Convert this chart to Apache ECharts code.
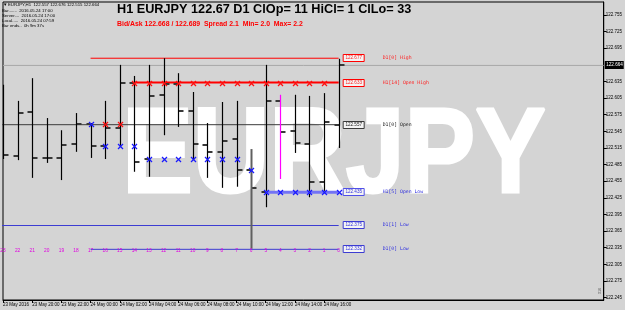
<!DOCTYPE html>
<html><head><meta charset="utf-8">
<script src="https://cdn.jsdelivr.net/npm/echarts@6/dist/echarts.min.js"></script>
<style>html,body{margin:0;padding:0;background:#d4d4d4;}#c{width:625px;height:310px;}</style>
</head><body><div id="c"></div>
<script>
// ---- data ----
const barNumbers = [23,22,21,20,19,18,17,16,15,14,13,12,11,10,9,8,7,6,5,4,3,2,1,0];
const opens  = [122.560,122.500,122.580,122.497,122.497,122.522,122.558,122.519,122.551,122.633,122.495,122.611,122.630,122.582,122.520,122.508,122.531,122.475,122.435,122.600,122.546,122.522,122.454,122.557];
const highs  = [122.629,122.600,122.641,122.569,122.547,122.578,122.560,122.600,122.665,122.645,122.665,122.677,122.650,122.616,122.560,122.598,122.600,122.513,122.665,122.611,122.611,122.609,122.614,122.676];
const lows   = [122.495,122.493,122.461,122.488,122.457,122.508,122.497,122.495,122.519,122.472,122.463,122.538,122.553,122.493,122.461,122.443,122.445,122.333,122.408,122.459,122.506,122.426,122.437,122.515];
const closes = [122.502,122.578,122.497,122.496,122.520,122.558,122.519,122.551,122.632,122.490,122.609,122.630,122.582,122.522,122.508,122.528,122.475,122.443,122.600,122.544,122.524,122.454,122.562,122.664];

const timeLabels    = ['23 May 2016','23 May 20:00','23 May 22:00','24 May 00:00','24 May 02:00','24 May 04:00','24 May 06:00','24 May 08:00','24 May 10:00','24 May 12:00','24 May 14:00','24 May 16:00'];
const timeLabelBars = [23,21,19,17,15,13,11,9,7,5,3,1];

const priceTicks = [122.245,122.275,122.305,122.335,122.365,122.395,122.425,122.455,122.485,122.515,122.545,122.575,122.605,122.635,122.695,122.725,122.755];
const bidPrice = 122.664;

const highOpenBars   = [16,15,14,13,12,11,10,9,8,7,6,5,4,3,2,1];
const highOpenValues = [122.558,122.558,122.633,122.633,122.633,122.633,122.633,122.633,122.633,122.633,122.633,122.633,122.633,122.633,122.633,122.633];
const lowOpenBars    = [17,16,15,14,13,12,11,10,9,8,7,6,5,4,3,2,1,0];
const lowOpenValues  = [122.558,122.519,122.519,122.519,122.495,122.495,122.495,122.495,122.495,122.495,122.495,122.475,122.435,122.435,122.435,122.435,122.435,122.435];

const levelNames     = ['D1[0] High','H1[14] Open High','D1[0] Open','H1[5] Open Low','D1[1] Low','D1[0] Low'];
const levelPrices    = [122.677,122.633,122.557,122.435,122.375,122.332];
const levelStartBars = [17,14,24,5,24,17];

const titleText = 'H1 EURJPY 122.67 D1 ClOp= 11 HiCl= 1 ClLo= 33';
const subText = 'Bid/Ask 122.668 / 122.689  Spread 2.1  Min= 2.0  Max= 2.2';
const infoLines = ['EURJPY,H1  122.557 122.676 122.515 122.664','Bar.......  2016.05.24 17:00','Server....  2016.05.24 17:00','Local.....  2016.05.24 07:59','Bar ends..  0h 9m 37s'];
const watermark = 'EURJPY';

// ---- styles ----
const levelStyles = [
  {color:'#ff0000', width:1, text:'#ff2020'},
  {color:'#ff0000', width:2, text:'#ff2020'},
  {color:'#3a3a3a', width:1, text:'#202020'},
  {color:'#7373f5', width:3, text:'#3030e0'},
  {color:'#3c3cd2', width:1, text:'#3030e0'},
  {color:'#3c3cd2', width:1, text:'#3030e0'}
];
const X_MAX = 41.16, Y_MIN = 122.2405, Y_MAX = 122.7785;
const idx = n => 23 - n;
const SMALL = '"Liberation Sans", Arial, sans-serif';
const MONO = '"DejaVu Sans Mono", "Liberation Mono", monospace';

const chart = echarts.init(document.getElementById('c'), null, {renderer:'canvas'});

const ohlcData = barNumbers.map((n,k)=>[idx(n), opens[k], highs[k], lows[k], closes[k], n]);
const tickPos = timeLabelBars.map(idx);

function renderBar(params, api){
  const i = api.value(0), n = api.value(5);
  const o = api.coord([i, api.value(1)]), h = api.coord([i, api.value(2)]);
  const l = api.coord([i, api.value(3)]), c = api.coord([i, api.value(4)]);
  const x = Math.round(h[0]) + 0.5;
  const vc = n === 4 ? '#ff00ff' : (n === 6 ? '#606060' : '#000000');
  const vw = n === 6 ? 2 : 1.2;
  const tc = '#383838';
  return {type:'group', children:[
    {type:'line', shape:{x1:x-5, y1:Math.round(o[1]), x2:x, y2:Math.round(o[1])}, style:{stroke:tc, lineWidth:2}},
    {type:'line', shape:{x1:x, y1:Math.round(c[1]), x2:x+5, y2:Math.round(c[1])}, style:{stroke:tc, lineWidth:2}},
    {type:'line', shape:{x1:x, y1:h[1], x2:x, y2:l[1]}, style:{stroke:vc, lineWidth:vw}}
  ]};
}

function crossRenderer(color){
  return function(params, api){
    const p = api.coord([api.value(0), api.value(1)]);
    const x = Math.round(p[0]) + 0.5, y = Math.round(p[1]) + 0.5, s = 2.5;
    return {type:'group', children:[
      {type:'line', shape:{x1:x-s,y1:y-s,x2:x+s,y2:y+s}, style:{stroke:color, lineWidth:1.3}},
      {type:'line', shape:{x1:x-s,y1:y+s,x2:x+s,y2:y-s}, style:{stroke:color, lineWidth:1.3}}
    ]};
  };
}

function renderLevelLabel(params, api){
  const k = params.dataIndex;
  const p = api.coord([api.value(0), api.value(1)]);
  const st = levelStyles[k];
  const y = Math.round(p[1]);
  return {type:'group', children:[
    {type:'rect', shape:{x:p[0]+4.5, y:y-3.5, width:21, height:7}, style:{fill:'#f4f4f4', stroke:st.color === '#7373f5' ? '#5050e8' : st.color, lineWidth:1}},
    {type:'text', x:p[0]+15, y:y, style:{text:api.value(1).toFixed(3), fill:st.text, font:'4.6px '+SMALL, align:'center', verticalAlign:'middle'}},
    {type:'text', x:p[0]+44, y:y, style:{text:levelNames[k], fill:st.text, font:'4.8px '+MONO, align:'left', verticalAlign:'middle'}}
  ]};
}

function renderBarNum(params, api){
  const p = api.coord([api.value(0), 122.329]);
  return {type:'text', x:p[0], y:p[1], style:{text:String(api.value(1)), fill:'#e000e0', font:'4.8px '+SMALL, align:'center', verticalAlign:'middle'}};
}

function renderBid(params, api){
  const p = api.coord([api.value(0), api.value(1)]);
  const y = Math.round(p[1]);
  return {type:'group', children:[
    {type:'rect', shape:{x:p[0]+1, y:y-4, width:19, height:8}, style:{fill:'#000'}},
    {type:'text', x:p[0]+2.5, y:y, style:{text:api.value(1).toFixed(3), fill:'#fff', font:'4.6px '+SMALL, verticalAlign:'middle'}}
  ]};
}

const series = [];
series.push({type:'line', data:[[0,bidPrice],[X_MAX,bidPrice]], symbol:'none', lineStyle:{color:'#a8a8a8', width:1}, z:1, silent:true});
levelPrices.forEach((p,k)=>{
  series.push({type:'line', data:[[idx(levelStartBars[k]),p],[idx(0),p]], symbol:'none',
    lineStyle:{color:levelStyles[k].color, width:levelStyles[k].width}, z:k===3?4:2, silent:true});
});
series.push({type:'custom', renderItem:renderBar, data:ohlcData, clip:true, z:3, encode:{x:0, y:[1,2,3,4]}});
series.push({type:'custom', renderItem:crossRenderer('#ff1010'), data:highOpenBars.map((n,k)=>[idx(n), highOpenValues[k]]), z:5, clip:false});
series.push({type:'custom', renderItem:crossRenderer('#1a1aff'), data:lowOpenBars.map((n,k)=>[idx(n), lowOpenValues[k]]), z:6, clip:false});
series.push({type:'custom', renderItem:renderLevelLabel, data:levelPrices.map(p=>[idx(0), p]), z:7, clip:false});
series.push({type:'custom', renderItem:renderBarNum, data:barNumbers.map(n=>[idx(n), n]), z:7, clip:false});
series.push({type:'custom', renderItem:renderBid, data:[[X_MAX, bidPrice]], z:8, clip:false});

const graphic = [
  {type:'text', x:334, y:159, scaleX:0.875, z:0, silent:true,
    style:{text:watermark, fill:'#ffffff', stroke:'#ffffff', lineWidth:3, font:'bold 121px "Liberation Sans", Arial, sans-serif', align:'center', verticalAlign:'middle'}},
  {type:'text', x:117, y:3, z:10, style:{text:titleText, fill:'#000', font:'bold 12.7px "Liberation Sans", Arial, sans-serif', verticalAlign:'top'}},
  {type:'text', x:117, y:20.5, z:10, style:{text:subText, fill:'#ff0000', font:'bold 6.9px "Liberation Sans", Arial, sans-serif', verticalAlign:'top'}},
  {type:'text', x:3, y:5, z:10, style:{text:'\u25BC', fill:'#000', font:'4.5px '+SMALL, verticalAlign:'middle'}},
  {type:'text', x:600, y:291, rotation:Math.PI/2, z:10, style:{text:'316', fill:'#555', font:'4px '+SMALL, align:'center', verticalAlign:'middle'}}
];
infoLines.forEach((t,k)=>{
  graphic.push({type:'text', x: k===0 ? 8 : 2, y: [5,11,16,21,26][k], z:10,
    style:{text:t, fill:'#000', font:'4.3px '+SMALL, verticalAlign:'middle'}});
});

chart.setOption({
  backgroundColor:'#d4d4d4',
  animation:false,
  grid:{left:2, right:20, top:2, bottom:10, show:true, borderColor:'#000', borderWidth:1, backgroundColor:'transparent'},
  xAxis:{type:'value', min:0, max:X_MAX,
    axisLine:{show:true, onZero:false, lineStyle:{color:'#000'}},
    splitLine:{show:false},
    axisTick:{show:true, customValues:tickPos, length:3, lineStyle:{color:'#000'}},
    axisLabel:{customValues:tickPos, formatter:v=>timeLabels[timeLabelBars.indexOf(23 - Math.round(v))] || '',
      fontSize:4.5, fontFamily:'Liberation Sans', color:'#000', margin:2, align:'left'}},
  yAxis:{type:'value', position:'right', min:Y_MIN, max:Y_MAX, scale:true,
    axisLine:{show:true, onZero:false, lineStyle:{color:'#000'}},
    splitLine:{show:false},
    axisTick:{show:true, customValues:priceTicks, length:3, lineStyle:{color:'#000'}},
    axisLabel:{customValues:priceTicks, formatter:v=>v.toFixed(3), fontSize:4.5, fontFamily:'Liberation Sans', color:'#000', margin:2}},
  graphic:graphic,
  series:series
});
</script></body></html>
